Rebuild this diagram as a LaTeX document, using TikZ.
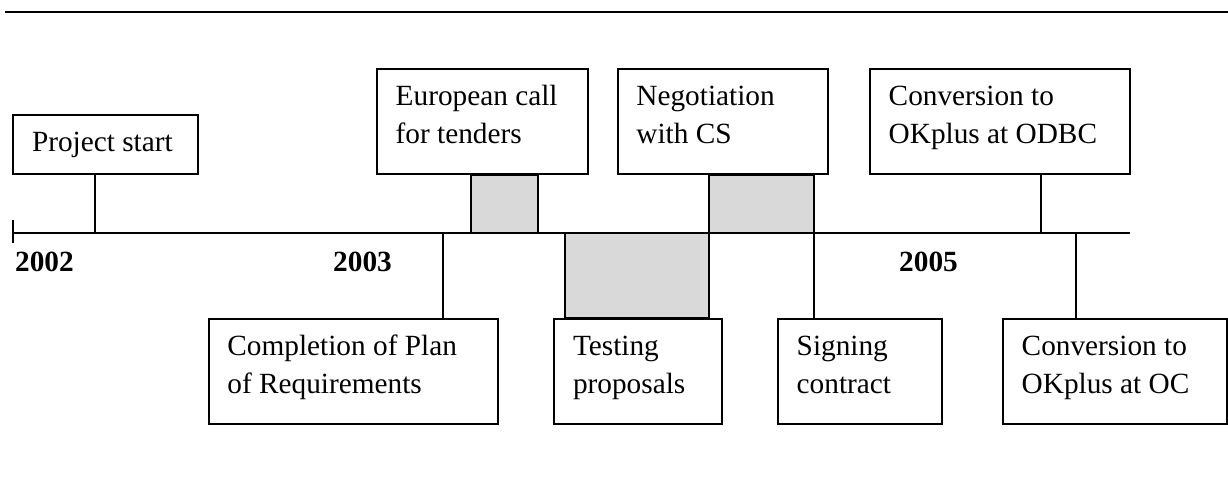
\documentclass[tikz,border=0pt]{standalone}
\usepackage{fontspec}
\setmainfont{Liberation Serif}
\definecolor{barfill}{RGB}{217,217,217}
\begin{document}
\begin{tikzpicture}[x=1pt,y=-1pt,
  box/.style={draw, line width=1.9pt, inner sep=0pt, anchor=north west},
  lbl/.style={anchor=base west, inner sep=0pt, align=left, font=\fontsize{29.3}{38}\selectfont},
  yr/.style={anchor=base west, inner sep=0pt, font=\fontsize{29.3}{38}\selectfont\bfseries},
  ln/.style={line width=1.9pt},
  bar/.style={draw, line width=1.9pt, fill=barfill}]
\useasboundingbox (0,0) rectangle (1228,494);
% top rule
\coordinate (tl) at (5,12);
\coordinate (tr) at (1228,12);
\draw[line width=2.8pt] (tl) -- (tr);
% boxes
\node[box, minimum width=184.4, minimum height=58.4] (ps) at (12.3,114.3) {};
\node[box, minimum width=211, minimum height=104.4] (eu) at (376,68.3) {};
\node[box, minimum width=210.3, minimum height=104.4] (neg) at (616.7,68.3) {};
\node[box, minimum width=259.7, minimum height=104.4] (odbc) at (869,68.3) {};
\node[box, minimum width=289, minimum height=104.4] (comp) at (207.7,318.3) {};
\node[box, minimum width=168, minimum height=104.4] (test) at (553.3,318.3) {};
\node[box, minimum width=163.7, minimum height=104.4] (sign) at (777,318.3) {};
\node[box, minimum width=224, minimum height=104.4] (oc) at (1002,318.3) {};
% labels (base anchor = last line)
\node[lbl] (tps) at (31.8,151.7) {Project start};
\node[lbl] (teu) at (395.5,143.8) {European call\\for tenders};
\node[lbl] (tneg) at (636.2,143.8) {Negotiation\\with CS};
\node[lbl] (todbc) at (888.5,143.8) {Conversion to\\OKplus at ODBC};
\node[lbl] (tcomp) at (227.2,393.8) {Completion of Plan\\of Requirements};
\node[lbl] (ttest) at (572.8,393.8) {Testing\\proposals};
\node[lbl] (tsign) at (796.5,393.8) {Signing\\contract};
\node[lbl] (toc) at (1021.5,393.8) {Conversion to\\OKplus at OC};
% years
\node[yr] (y2) at (15,271.5) {2002};
\node[yr] (y3) at (333,271.5) {2003};
\node[yr] (y5) at (899,271.5) {2005};
% axis
\coordinate (axL) at (12.7,232.7);
\coordinate (axR) at (1130,232.7);
\draw[ln] (axL) -- (axR);
\coordinate (tkT) at (12.7,220);
\coordinate (tkB) at (12.7,243.5);
\draw[ln] (tkT) -- (tkB);
% stems
\coordinate (s1) at (94.7,232.7);
\coordinate (s2) at (443,232.7);
\coordinate (s3) at (1040.7,232.7);
\coordinate (s4) at (1076,232.7);
\draw[ln] (s1 |- ps.south) -- (s1);
\draw[ln] (s2) -- (s2 |- comp.north);
\draw[ln] (s3 |- odbc.south) -- (s3);
\draw[ln] (s4) -- (s4 |- oc.north);
% bars
\coordinate (b1) at (471,232.7);
\coordinate (b1r) at (537.7,232.7);
\draw[bar] (b1 |- eu.south) rectangle (b1r);
\coordinate (b2) at (565,232.7);
\coordinate (b2r) at (709,232.7);
\draw[bar] (b2) rectangle (b2r |- test.north);
\coordinate (b3r) at (814,232.7);
\draw[bar] (b2r |- neg.south) rectangle (b3r);
\draw[ln] (b3r) -- (b3r |- sign.north);
\end{tikzpicture}
\end{document}
